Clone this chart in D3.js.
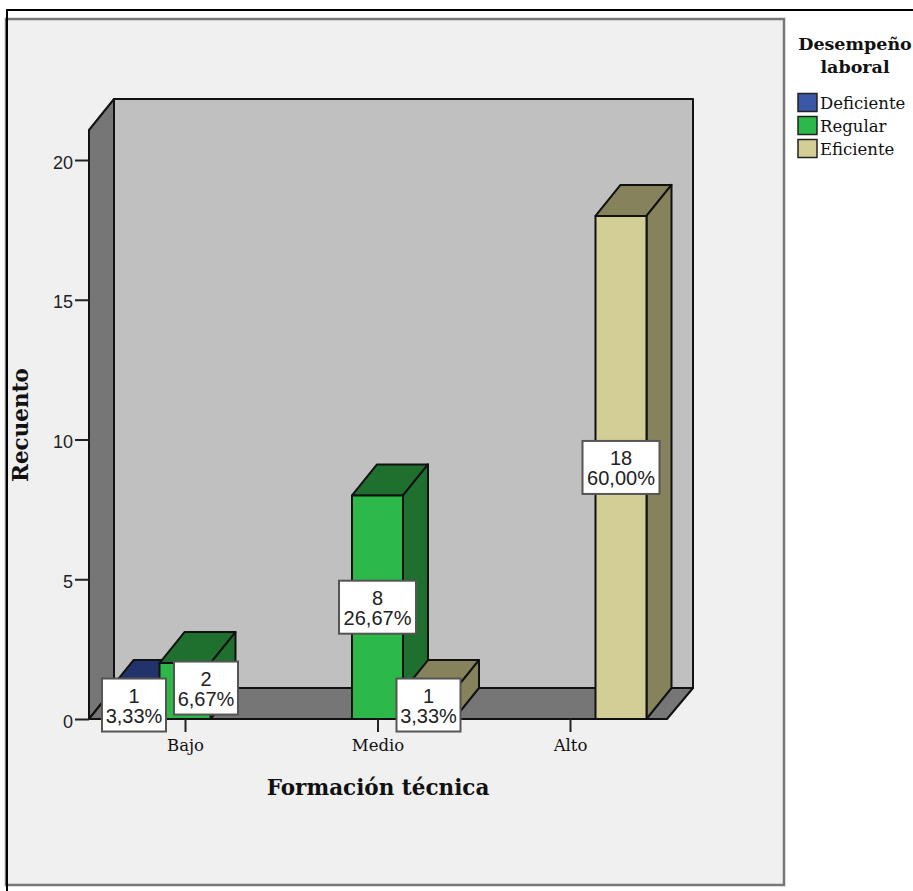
<!DOCTYPE html>
<html>
<head>
<meta charset="utf-8">
<script src="https://cdn.jsdelivr.net/npm/d3@7"></script>
<style>
body { margin: 0; background: #fff; }
svg { display: block; }
</style>
</head>
<body>
<div class="container"></div>
<script>
var categories = ['Bajo', 'Medio', 'Alto'];
var seriesNames = ['Deficiente', 'Regular', 'Eficiente'];
var bars = [
    { cat: 'Bajo', serie: 'Deficiente', value: 1, pct: '3,33%' },
    { cat: 'Bajo', serie: 'Regular', value: 2, pct: '6,67%' },
    { cat: 'Medio', serie: 'Regular', value: 8, pct: '26,67%' },
    { cat: 'Medio', serie: 'Eficiente', value: 1, pct: '3,33%' },
    { cat: 'Alto', serie: 'Eficiente', value: 18, pct: '60,00%' }
];
var yTicks = [0, 5, 10, 15, 20];

var serif = '"DejaVu Serif", serif';
var sans = '"Liberation Sans", Arial, sans-serif';
var fronts = { Deficiente: '#3b57a8', Regular: '#2db84a', Eficiente: '#d3ce96' };
var sides = { Deficiente: '#22336b', Regular: '#1f702f', Eficiente: '#85825c' };

var depthX = 25, depthY = -31;

var svg = d3.select('.container')
    .append('svg')
    .attr('width', 913)
    .attr('height', 891);

// chart panel, then the black frame over its left edge
svg.append('rect').attr('x', 6).attr('y', 19).attr('width', 778).attr('height', 866)
    .attr('fill', '#f0f0f0').attr('stroke', '#777').attr('stroke-width', 2.5);
svg.append('rect').attr('x', 7).attr('y', 10).attr('width', 920).attr('height', 900)
    .attr('fill', 'none').attr('stroke', '#000').attr('stroke-width', 2);

var y = d3.scaleLinear().domain([0, 20]).range([719, 160]);
var x = d3.scalePoint().domain(categories).range([185, 570]);
var barWidth = 51;
var slot = d3.scaleOrdinal().domain(seriesNames).range([-1.5, -0.5, 0.5]);

function barLeft(d) {
    return x(d.cat) + slot(d.serie) * barWidth;
}

function poly(points, fill) {
    svg.append('polygon')
        .attr('points', points.map(function (p) { return p.join(','); }).join(' '))
        .attr('fill', fill)
        .attr('stroke', '#111')
        .attr('stroke-width', 2)
        .attr('stroke-linejoin', 'round');
}

// walls and floor
var x0 = 89, x1 = 667;
var yBase = y(0);
var wallTop = 130;
poly([[x0 + depthX, wallTop + depthY], [693, wallTop + depthY], [693, yBase + depthY], [x0 + depthX, yBase + depthY]], '#c0c0c0');
poly([[x0, wallTop], [x0 + depthX, wallTop + depthY], [x0 + depthX, yBase + depthY], [x0, yBase]], '#767676');
poly([[x0, yBase], [x0 + depthX, yBase + depthY], [693, yBase + depthY], [x1, yBase]], '#767676');

// bars, back to front
bars.forEach(function (d) {
    var l = barLeft(d), r = l + barWidth, t = y(d.value), b = y(0);
    poly([[l, t], [l + depthX, t + depthY], [r + depthX, t + depthY], [r, t]], sides[d.serie]);
    poly([[r, t], [r + depthX, t + depthY], [r + depthX, b + depthY], [r, b]], sides[d.serie]);
    poly([[l, t], [r, t], [r, b], [l, b]], fronts[d.serie]);
});

// y axis ticks
var yAxis = d3.axisLeft(y).tickValues(yTicks).tickSize(14).tickPadding(2).tickFormat(d3.format('d'));
var yG = svg.append('g').attr('transform', 'translate(89,0)').call(yAxis);
yG.select('.domain').remove();
yG.selectAll('line').attr('stroke', '#222').attr('stroke-width', 2);
yG.selectAll('text').attr('font-family', sans).attr('font-size', 18).attr('fill', '#222')
    .attr('dy', '0.45em');

// x axis ticks
var xAxis = d3.axisBottom(x).tickSize(13).tickPadding(7);
var xG = svg.append('g').attr('transform', 'translate(0,719)').call(xAxis);
xG.select('.domain').remove();
xG.selectAll('line').attr('stroke', '#222').attr('stroke-width', 2);
xG.selectAll('text').attr('font-family', serif).attr('font-size', 16.5).attr('fill', '#111');

// value labels
bars.forEach(function (d) {
    var cx = barLeft(d) + barWidth / 2, cy = y(d.value / 2);
    // the Bajo / Regular label sits aside in the original so it clears the Deficiente one
    if (d.cat === 'Bajo' && d.serie === 'Regular') { cx += 21; cy -= 3; }
    var w = d.pct.length > 5 ? 77 : 64, h = 53;
    svg.append('rect').attr('x', cx - w / 2).attr('y', cy - h / 2)
        .attr('width', w).attr('height', h)
        .attr('fill', '#fff').attr('stroke', '#555').attr('stroke-width', 2);
    svg.append('text').attr('x', cx).attr('y', cy - 2.5).attr('text-anchor', 'middle')
        .attr('font-family', sans).attr('font-size', 20).attr('fill', '#222').text(d.value);
    svg.append('text').attr('x', cx).attr('y', cy + 18).attr('text-anchor', 'middle')
        .attr('font-family', sans).attr('font-size', 20).attr('fill', '#222').text(d.pct);
});

// axis titles
svg.append('text').attr('x', 378).attr('y', 795).attr('text-anchor', 'middle')
    .attr('font-family', serif).attr('font-weight', 'bold').attr('font-size', 21.5).attr('fill', '#111')
    .text('Formación técnica');
svg.append('text').attr('transform', 'translate(28,425) rotate(-90)').attr('text-anchor', 'middle')
    .attr('font-family', serif).attr('font-weight', 'bold').attr('font-size', 21.5).attr('fill', '#111')
    .text('Recuento');

// legend
svg.append('text').attr('x', 855).attr('y', 50).attr('text-anchor', 'middle')
    .attr('font-family', serif).attr('font-weight', 'bold').attr('font-size', 17.5).attr('fill', '#111')
    .text('Desempeño');
svg.append('text').attr('x', 855).attr('y', 73).attr('text-anchor', 'middle')
    .attr('font-family', serif).attr('font-weight', 'bold').attr('font-size', 17.5).attr('fill', '#111')
    .text('laboral');
var legendY = d3.scalePoint().domain(seriesNames).range([102.5, 148.5]);
seriesNames.forEach(function (s) {
    svg.append('rect').attr('x', 798).attr('y', legendY(s) - 9).attr('width', 19).attr('height', 18)
        .attr('fill', fronts[s]).attr('stroke', '#222').attr('stroke-width', 1.5);
    svg.append('text').attr('x', 820).attr('y', legendY(s) + 6)
        .attr('font-family', serif).attr('font-size', 16.5).attr('fill', '#111').text(s);
});
</script>
</body>
</html>
